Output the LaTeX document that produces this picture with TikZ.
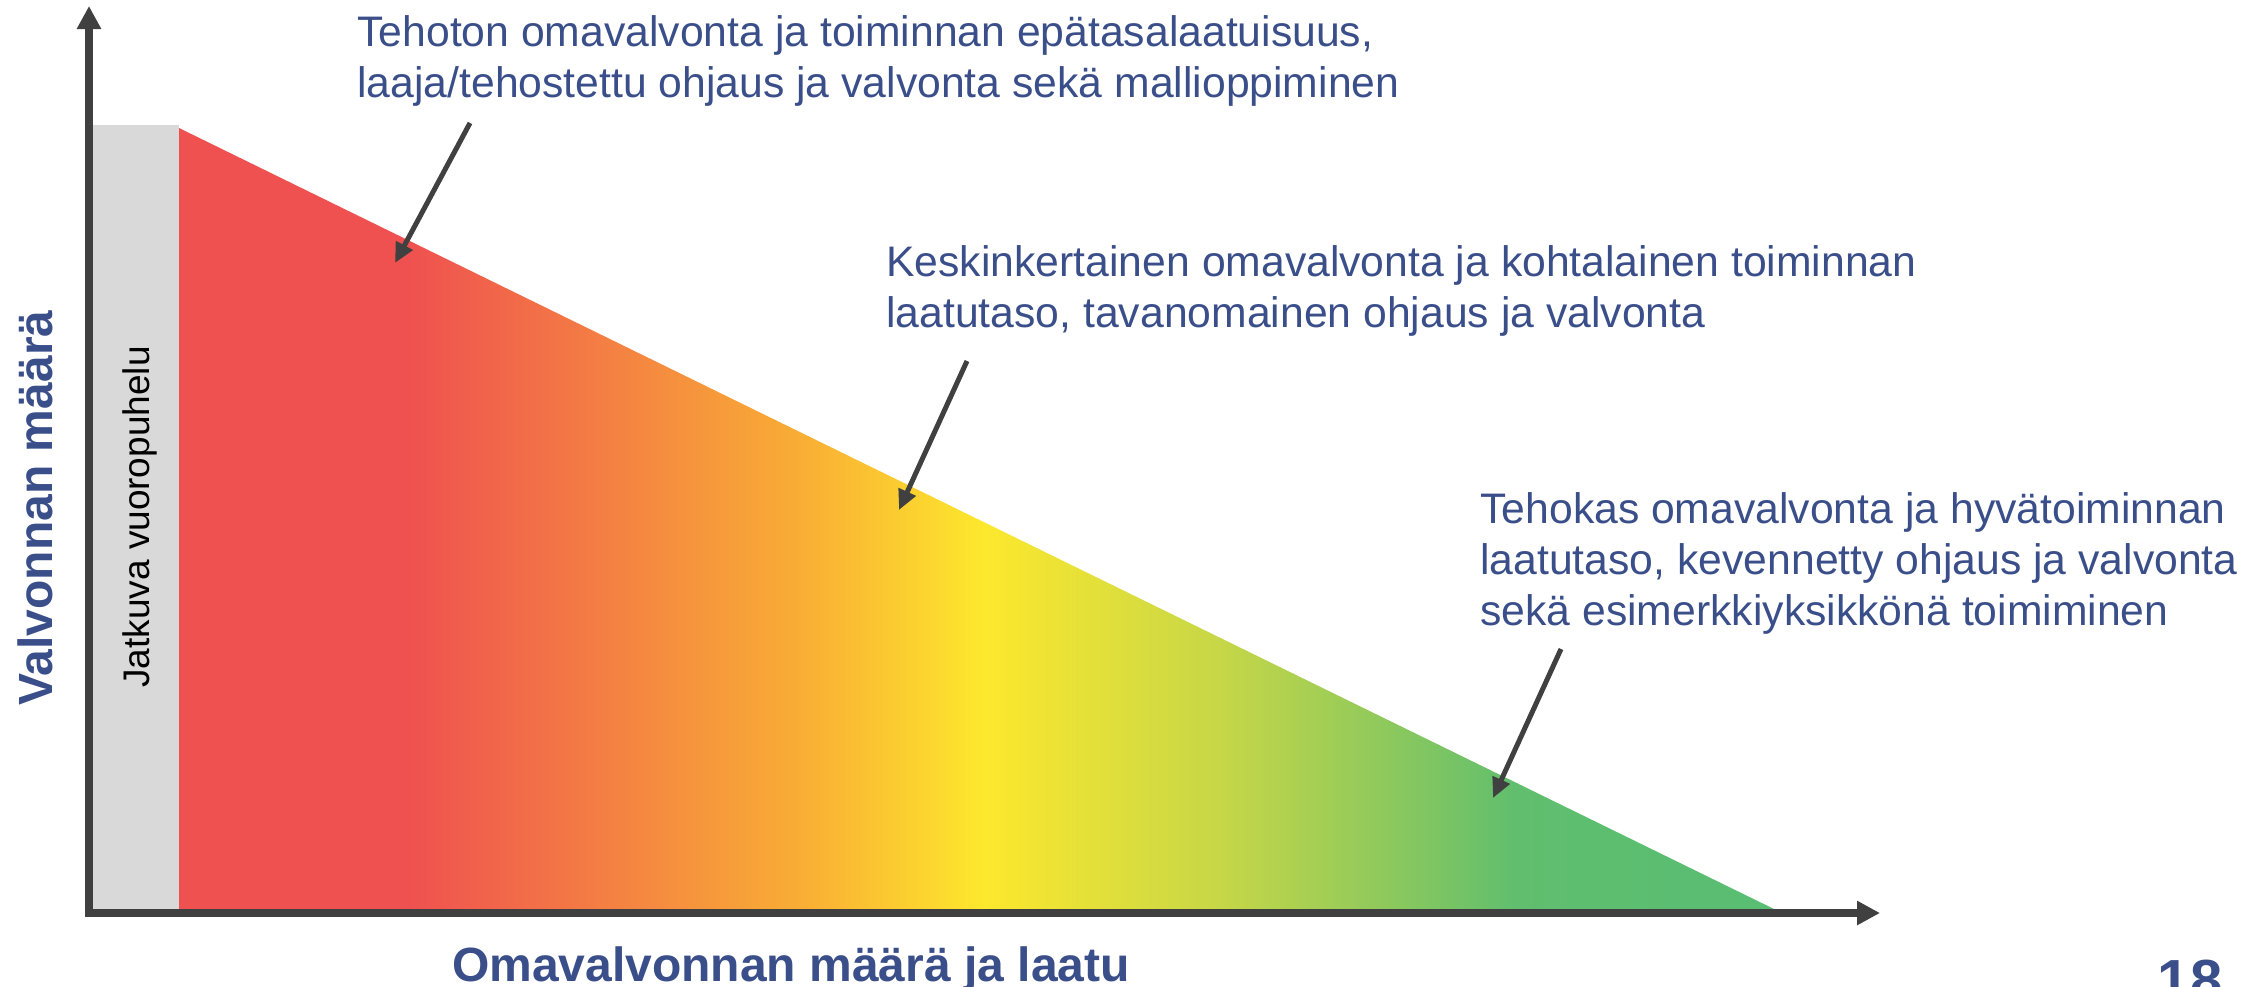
\documentclass[tikz,border=0pt]{standalone}
\usepackage{fontspec}
\setmainfont{Liberation Sans}
\usetikzlibrary{arrows.meta}
\definecolor{txtblue}{RGB}{58,78,138}
\definecolor{axisgray}{RGB}{64,64,64}
\definecolor{boxgray}{RGB}{217,217,217}
\definecolor{gRed}{RGB}{239,80,80}
\definecolor{gOrange}{RGB}{245,138,64}
\definecolor{gLightOrange}{RGB}{249,176,52}
\definecolor{gYellow}{RGB}{253,232,45}
\definecolor{gYellowGreen}{RGB}{196,214,72}
\definecolor{gGreen}{RGB}{96,190,110}
\definecolor{gGreenEnd}{RGB}{88,189,115}
\begin{document}
\begin{tikzpicture}[x=0.5pt,y=-0.5pt,
  note/.style={font=\fontsize{21.35}{25.5}\selectfont, text=txtblue, align=left, anchor=base west, inner sep=0pt},
  pointer/.style={draw=axisgray, line width=2.5pt, -{Triangle[length=10pt,width=9pt]}},
  axisline/.style={draw=axisgray, line width=4pt, line join=miter, {Triangle[length=11.5pt,width=11.5pt]}-{Triangle[length=11.5pt,width=11.5pt]}},
  axislabel/.style={font=\bfseries\fontsize{24}{28}\selectfont, text=txtblue, inner sep=0pt, anchor=base}]
\useasboundingbox (0,0) rectangle (2266,986);

% grey band
\fill[boxgray] (93,125) rectangle (179,909);

% gradient triangle
\begin{scope}
  \clip (179,128) -- (1774,909) -- (179,909) -- cycle;
  \fill[gRed] (178,120) rectangle (406,915);
  \shade[left color=gRed,right color=gOrange] (405,120) rectangle (651,915);
  \shade[left color=gOrange,right color=gLightOrange] (650,120) rectangle (811,915);
  \shade[left color=gLightOrange,right color=gYellow] (810,120) rectangle (984,915);
  \shade[left color=gYellow,right color=gYellowGreen] (983,120) rectangle (1229,915);
  \shade[left color=gYellowGreen,right color=gGreen] (1228,120) rectangle (1518,915);
  \shade[left color=gGreen,right color=gGreenEnd] (1517,120) rectangle (1780,915);
\end{scope}

% axes
\coordinate (ytop) at (89,6);
\coordinate (origin) at (89,913);
\coordinate (xend) at (1880,913);
\draw[axisline] (ytop) -- (origin) -- (xend);

% rotated label in band
\node[rotate=90, font=\fontsize{18.5}{22}\selectfont, inner sep=0pt] (dialog) at (140,517) {Jatkuva vuoropuhelu};

% axis labels
\node[axislabel, rotate=90] (ylabel) at (53,508) {Valvonnan määrä};
\node[axislabel] (xlabel) at (791,981) {Omavalvonnan määrä ja laatu};
\node[font=\bfseries\fontsize{29}{34}\selectfont, text=txtblue, anchor=base, inner sep=0pt] (pagenum) at (2190,1000) {18};

% notes (anchored at the baseline of their last line)
\node[note] (n1) at (357,97) {Tehoton omavalvonta ja toiminnan epätasalaatuisuus,\\laaja/tehostettu ohjaus ja valvonta sekä mallioppiminen};
\node[note] (n2) at (886,327) {Keskinkertainen omavalvonta ja kohtalainen toiminnan\\laatutaso, tavanomainen ohjaus ja valvonta};
\node[note] (n3) at (1480,625) {Tehokas omavalvonta ja hyvätoiminnan\\laatutaso, kevennetty ohjaus ja valvonta\\sekä esimerkkiyksikkönä toimiminen};

% pointers
\coordinate (p1s) at (470,123);
\coordinate (p1e) at (395,263);
\coordinate (p2s) at (967,361);
\coordinate (p2e) at (899,510);
\coordinate (p3s) at (1561,649);
\coordinate (p3e) at (1493,798);
\draw[pointer] (p1s) -- (p1e);
\draw[pointer] (p2s) -- (p2e);
\draw[pointer] (p3s) -- (p3e);
\end{tikzpicture}
\end{document}
